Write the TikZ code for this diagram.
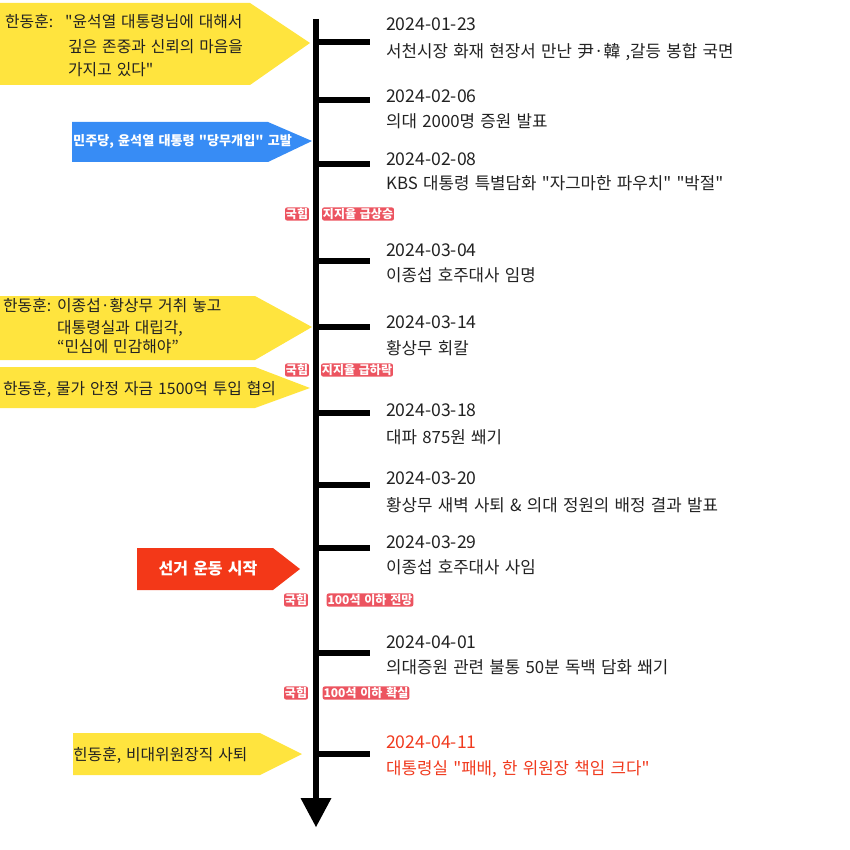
\documentclass[tikz,border=0pt]{standalone}
\usepackage{fontspec}
\setmainfont{Noto Sans CJK KR}[Ligatures=TeXOff, WordSpace=1.4]
\definecolor{yel}{RGB}{255,228,62}
\definecolor{blu}{RGB}{55,140,245}
\definecolor{rdbox}{RGB}{243,56,24}
\definecolor{tagred}{RGB}{236,84,96}
\definecolor{txt}{RGB}{34,34,34}
\definecolor{late}{RGB}{240,58,30}
\begin{document}
\begin{tikzpicture}[x=1pt,y=-1pt,
  datetxt/.style={anchor=base west, inner sep=0pt, text=txt, font=\fontsize{17.6}{17.6}\selectfont},
  evtxt/.style={anchor=base west, inner sep=0pt, text=txt, font=\fontsize{16.8}{16.8}\selectfont},
  lefttxt/.style={anchor=base west, inner sep=0pt, text=txt, font=\fontsize{15.8}{15.8}\selectfont},
  ticka/.style={line width=6pt},
  tagbox/.style={fill=tagred, text=white, font=\bfseries\fontsize{12}{12}\selectfont, inner sep=0.9pt, rounded corners=2pt}]
\useasboundingbox (0,0) rectangle (850,850);

% left arrows
\fill[yel] (0,3) -- (250,3) -- (310,43) -- (250,85) -- (0,85) -- cycle;
\node[lefttxt] (y1a) at (5,28) {한동훈:};
\node[lefttxt] (y1b) at (65,28) {"윤석열 대통령님에 대해서};
\node[lefttxt] (y1c) at (68,53) {깊은 존중과 신뢰의 마음을};
\node[lefttxt] (y1d) at (68,76) {가지고 있다"};

\fill[blu] (72,122) -- (268,122) -- (312,141) -- (268,162) -- (72,162) -- cycle;
\node[anchor=west, inner sep=0pt, text=white, font=\bfseries\fontsize{13.1}{13.1}\selectfont] (b1) at (73,141) {민주당, 윤석열 대통령 "당무개입" 고발};

\fill[yel] (0,296) -- (255,296) -- (312,327) -- (255,360) -- (0,360) -- cycle;
\node[lefttxt] (y2a) at (3,311) {한동훈:};
\node[lefttxt] (y2b) at (57,311) {이종섭·황상무 거취 놓고};
\node[lefttxt] (y2c) at (57,333) {대통령실과 대립각,};
\node[lefttxt] (y2d) at (57,352) {“민심에 민감해야”};

\fill[yel] (0,367) -- (255,367) -- (310,388) -- (255,408) -- (0,408) -- cycle;
\node[lefttxt] (y3) at (3,394) {한동훈, 물가 안정 자금 1500억 투입 협의};

\fill[rdbox] (137,548) -- (273,548) -- (300,569) -- (273,590) -- (137,590) -- cycle;
\node[inner sep=0pt, text=white, font=\bfseries\fontsize{16}{16}\selectfont] (r1) at (208,569) {선거 운동 시작};

\fill[yel] (73,733) -- (260,733) -- (302,754) -- (260,775) -- (73,775) -- cycle;
\node[lefttxt] (y4) at (73,760) {힌동훈, 비대위원장직 사퇴};

% axis
\coordinate (top) at (316,19);
\coordinate (bot) at (316,799);
\coordinate (tip) at (316,827);
\draw[line width=6pt] (top) -- (bot);
\fill (300.5,798) -- (331.5,798) -- (tip) -- cycle;

% ticks
\foreach \n/\yy in {1/42,2/100,3/164,4/261,5/327,6/413,7/485,8/548,9/653,10/754}{
  \coordinate (s\n) at (316,\yy);
  \coordinate (e\n) at (370,\yy);
  \draw[ticka] (s\n) -- (e\n);
}

% dates and events
\node[datetxt] (d1) at (386,31) {2024-01-23};
\node[evtxt] (t1) at (386,58) {서천시장 화재 현장서 만난 尹·韓 ,갈등 봉합 국면};
\node[datetxt] (d2) at (386,103) {2024-02-06};
\node[evtxt] (t2) at (386,128) {의대 2000명 증원 발표};
\node[datetxt] (d3) at (386,166) {2024-02-08};
\node[evtxt] (t3) at (386,190) {KBS 대통령 특별담화 "자그마한 파우치" "박절"};
\node[datetxt] (d4) at (386,256) {2024-03-04};
\node[evtxt] (t4) at (386,281) {이종섭 호주대사 임명};
\node[datetxt] (d5) at (386,328) {2024-03-14};
\node[evtxt] (t5) at (386,354) {황상무 회칼};
\node[datetxt] (d6) at (386,416) {2024-03-18};
\node[evtxt] (t6) at (386,443) {대파 875원 쐐기};
\node[datetxt] (d7) at (386,484) {2024-03-20};
\node[evtxt] (t7) at (386,511) {황상무 새벽 사퇴 \& 의대 정원의 배정 결과 발표};
\node[datetxt] (d8) at (386,548) {2024-03-29};
\node[evtxt] (t8) at (386,573) {이종섭 호주대사 사임};
\node[datetxt] (d9) at (386,648) {2024-04-01};
\node[evtxt] (t9) at (386,673) {의대증원 관련 불통 50분 독백 담화 쐐기};
\node[datetxt, text=late] (d10) at (386,748) {2024-04-11};
\node[evtxt, text=late] (t10) at (386,774) {대통령실 "패배, 한 위원장 책임 크다"};

% tags
\node[tagbox] (g1a) at (297,214) {국힘};
\node[tagbox] (g1b) at (358,214) {지지율 급상승};
\node[tagbox] (g2a) at (297,370) {국힘};
\node[tagbox] (g2b) at (357,370) {지지율 급하락};
\node[tagbox] (g3a) at (296,600) {국힘};
\node[tagbox] (g3b) at (370,600) {100석 이하 전망};
\node[tagbox] (g4a) at (296,693) {국힘};
\node[tagbox] (g4b) at (366,693) {100석 이하 확실};
\end{tikzpicture}
\end{document}
